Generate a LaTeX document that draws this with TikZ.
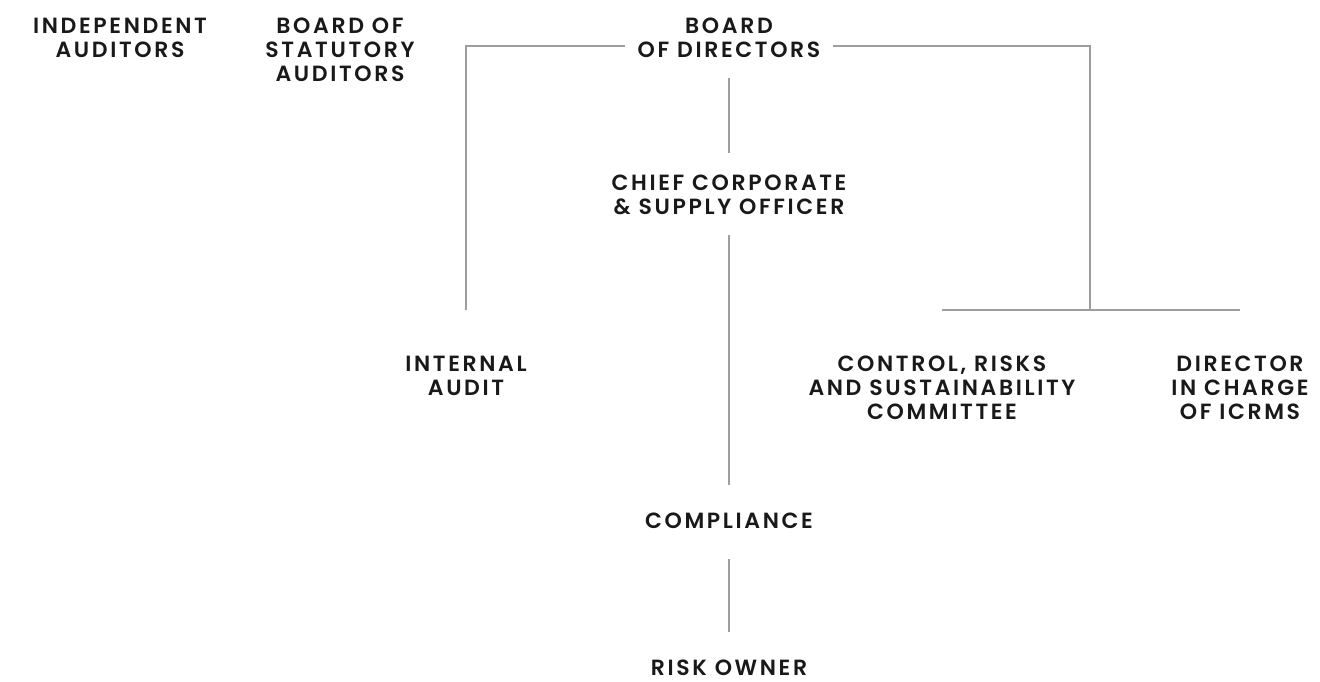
\documentclass[tikz,border=0pt]{standalone}
\usepackage{fontspec}
\setmainfont{Poppins}[UprightFont=* SemiBold, LetterSpace=12]
\begin{document}
\begin{tikzpicture}[x=1pt,y=-1pt,
  lbl/.style={align=center,inner sep=0pt,font=\fontsize{22}{24}\selectfont,text=black!90},
  conn/.style={draw=black!38,line width=1.4pt}]
\useasboundingbox (0,0) rectangle (1320,682);
\node[lbl] (ia0) at (120,38) {INDEPENDENT\\AUDITORS};
\node[lbl] (bsa) at (340,50) {BOARD OF\\STATUTORY\\AUDITORS};
\node[lbl] (bod) at (729,38) {BOARD\\OF DIRECTORS};
\node[lbl] (ccso) at (729,195) {CHIEF CORPORATE\\\& SUPPLY OFFICER};
\node[lbl] (ia) at (466,376) {INTERNAL\\AUDIT};
\node[lbl] (crsc) at (942,388) {CONTROL, RISKS\\AND SUSTAINABILITY\\COMMITTEE};
\node[lbl] (dic) at (1240,388) {DIRECTOR\\IN CHARGE\\OF ICRMS};
\node[lbl] (comp) at (729,521) {COMPLIANCE};
\node[lbl] (ro) at (729,668) {RISK OWNER};
\coordinate (lt) at (bod.west |- 0,46);
\coordinate (rt) at (bod.east |- 0,46);
\coordinate (rj) at (1090,310);
\draw[conn] ([xshift=-12pt]lt) -| (ia.north |- rj);
\draw[conn] ([xshift=12pt]rt) -| (rj);
\draw[conn] (crsc.north |- rj) -- (dic.north |- rj);
\draw[conn] ([yshift=-20pt]bod.south) -- ([yshift=22pt]ccso.north);
\draw[conn] ([yshift=-20pt]ccso.south) -- ([yshift=28pt]comp.north);
\draw[conn] ([yshift=-30pt]comp.south) -- ([yshift=28pt]ro.north);
\end{tikzpicture}
\end{document}
